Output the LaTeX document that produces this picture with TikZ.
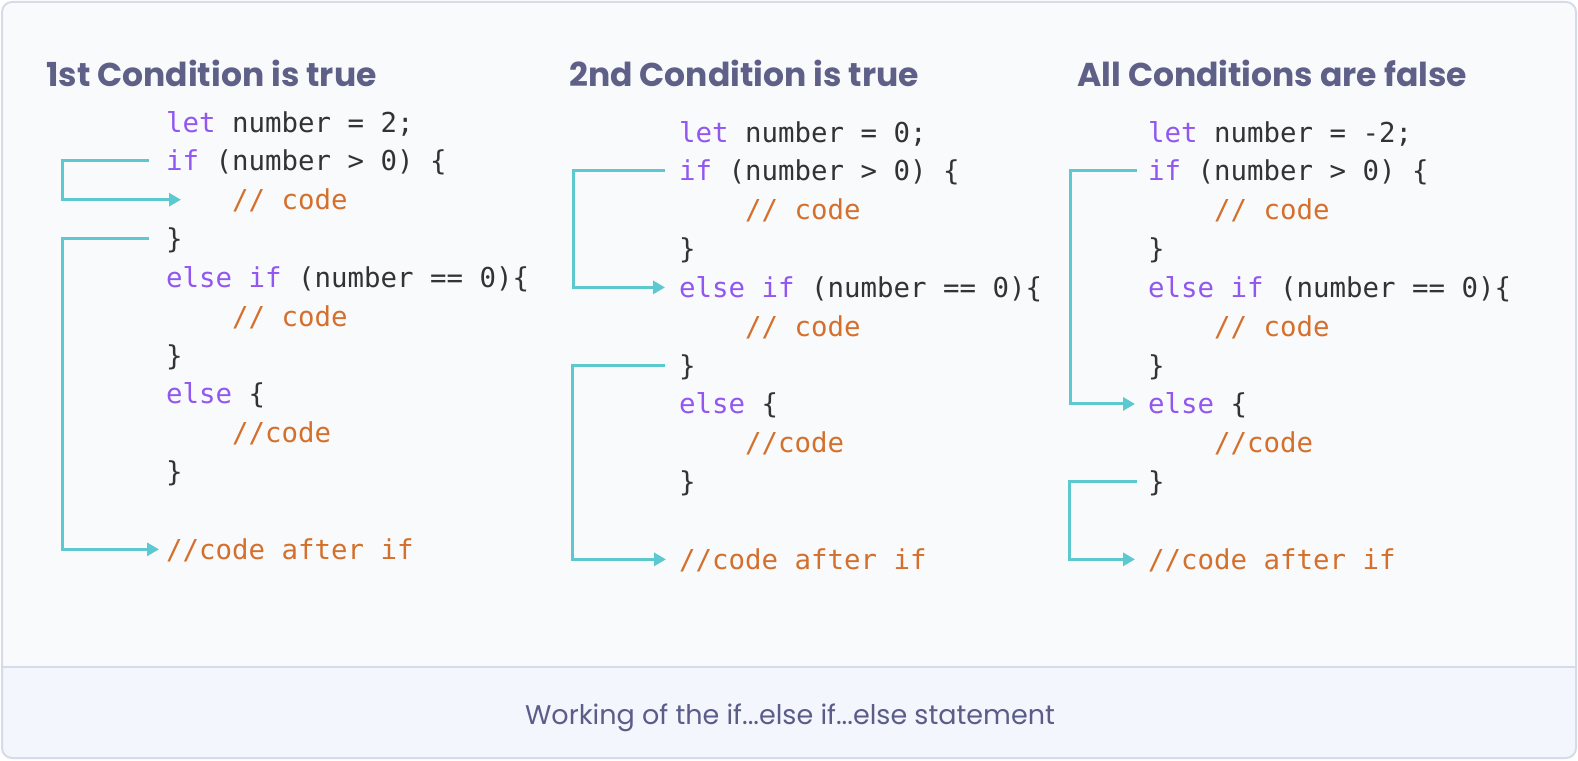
\documentclass[tikz,border=0pt]{standalone}
\usepackage{fontspec}
\setmonofont{DejaVu Sans Mono}
\newfontfamily\titlefont{Poppins}
\usetikzlibrary{arrows.meta}
\definecolor{kw}{HTML}{9157F0}
\definecolor{cm}{HTML}{D4702C}
\definecolor{tx}{HTML}{333333}
\definecolor{ttl}{HTML}{5E6088}
\definecolor{cap}{HTML}{5B5D88}
\definecolor{flowc}{HTML}{5CC9D1}
\definecolor{bord}{HTML}{D5DBE8}
\definecolor{bgup}{HTML}{F9FAFC}
\definecolor{bglo}{HTML}{F3F6FD}
\newcommand\mycodefont{\ttfamily\fontsize{27.4}{30}\selectfont}
\newcommand\kw[1]{\textcolor{kw}{#1}}
\begin{document}
\begin{tikzpicture}[x=1pt,y=-1pt,
  code/.style={anchor=west,inner sep=0pt,text height=20pt,text depth=0pt,font=\mycodefont,text=tx},
  cmt/.style={code,text=cm},
  title/.style={anchor=west,inner sep=0pt,font=\titlefont\bfseries\fontsize{33}{36}\selectfont,text=ttl},
  flow/.style={draw=flowc,line width=3pt,-{Triangle[length=12pt,width=13pt]}}]
\useasboundingbox (0,0) rectangle (1578,760);
% frame
\fill[bgup,rounded corners=10pt] (2,2) rectangle (1576,758);
\fill[bglo,rounded corners=10pt] (2,667) rectangle (1576,758);
\fill[bglo] (2,667) rectangle (1576,700);
\draw[bord,line width=2pt,rounded corners=10pt] (2,2) rectangle (1576,758);
\draw[bord,line width=2pt] (2,667) -- (1576,667);
\node[font=\titlefont\fontsize{27}{30}\selectfont,text=cap] (capt) at (790,718) {Working of the if...else if...else statement};
% titles
\node[title] (t1) at (46,73.5) {1st Condition is true};
\node[title] (t2) at (569,73.5) {2nd Condition is true};
\node[title] (t3) at (1077,73.5) {All Conditions are false};
% column 1
\node[code] (a0) at (166,122) {\kw{let} number = 2;};
\node[code] (a1) at (166,160.85) {\kw{if} (number > 0) \{};
\node[cmt]  (a2) at (232,199.7) {// code};
\node[code] (a3) at (166,238.55) {\}};
\node[code] (a4) at (166,277.4) {\kw{else if} (number == 0)\{};
\node[cmt]  (a5) at (232,316.25) {// code};
\node[code] (a6) at (166,355.1) {\}};
\node[code] (a7) at (166,393.95) {\kw{else} \{};
\node[cmt]  (a8) at (232,432.8) {//code};
\node[code] (a9) at (166,471.65) {\}};
\node[cmt]  (a11) at (166,549.35) {//code after if};
% column 2
\node[code] (b0) at (679,132) {\kw{let} number = 0;};
\node[code] (b1) at (679,170.85) {\kw{if} (number > 0) \{};
\node[cmt]  (b2) at (745,209.7) {// code};
\node[code] (b3) at (679,248.55) {\}};
\node[code] (b4) at (679,287.4) {\kw{else if} (number == 0)\{};
\node[cmt]  (b5) at (745,326.25) {// code};
\node[code] (b6) at (679,365.1) {\}};
\node[code] (b7) at (679,403.95) {\kw{else} \{};
\node[cmt]  (b8) at (745,442.8) {//code};
\node[code] (b9) at (679,481.65) {\}};
\node[cmt]  (b11) at (679,559.35) {//code after if};
% column 3
\node[code] (c0) at (1148,132) {\kw{let} number = -2;};
\node[code] (c1) at (1148,170.85) {\kw{if} (number > 0) \{};
\node[cmt]  (c2) at (1214,209.7) {// code};
\node[code] (c3) at (1148,248.55) {\}};
\node[code] (c4) at (1148,287.4) {\kw{else if} (number == 0)\{};
\node[cmt]  (c5) at (1214,326.25) {// code};
\node[code] (c6) at (1148,365.1) {\}};
\node[code] (c7) at (1148,403.95) {\kw{else} \{};
\node[cmt]  (c8) at (1214,442.8) {//code};
\node[code] (c9) at (1148,481.65) {\}};
\node[cmt]  (c11) at (1148,559.35) {//code after if};
% connectors
\draw[flow] ([xshift=-17pt]a1.west) -- ++(-87,0) |- ([xshift=-51pt]a2.west);
\draw[flow] ([xshift=-17pt]a3.west) -- ++(-87,0) |- ([xshift=-7pt]a11.west);
\draw[flow] ([xshift=-14pt]b1.west) -- ++(-92,0) |- ([xshift=-14pt]b4.west);
\draw[flow] ([xshift=-14pt]b6.west) -- ++(-93,0) |- ([xshift=-13pt]b11.west);
\draw[flow] ([xshift=-11pt]c1.west) -- ++(-67,0) |- ([xshift=-13pt]c7.west);
\draw[flow] ([xshift=-11pt]c9.west) -- ++(-68,0) |- ([xshift=-13pt]c11.west);
\end{tikzpicture}
\end{document}
